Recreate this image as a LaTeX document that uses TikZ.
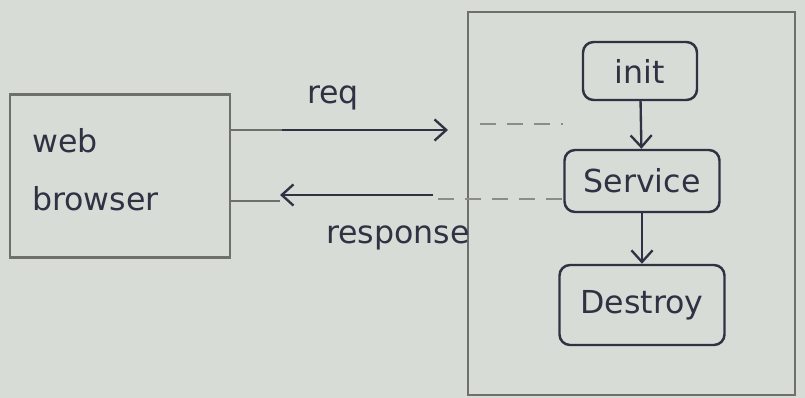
\documentclass[tikz,border=0pt]{standalone}
\usepackage{fontspec}
\setmainfont{DejaVu Sans}
\usetikzlibrary{arrows.meta}
\definecolor{paper}{RGB}{216,220,214}
\definecolor{pencil}{RGB}{110,112,108}
\definecolor{ink}{RGB}{48,50,68}
\tikzset{
  box/.style={draw=pencil, line width=2.1pt, minimum width=#1},
  soft/.style={box=#1, rounded corners=9pt, draw=ink, line width=2.1pt},
  lbl/.style={text=ink, font=\fontsize{27}{50}\selectfont},
  inkarrow/.style={draw=ink, line width=2pt, -{Straight Barb[length=10pt,width=18pt,line width=2pt]}},
  stub/.style={draw=pencil, line width=2.1pt},
  dashline/.style={draw=pencil!80, line width=2.1pt, dash pattern=on 14pt off 9pt},
}
\begin{document}
\begin{tikzpicture}[x=0.03cm, y=-0.03cm]
\fill[paper] (0,0) rectangle (805,398);
\useasboundingbox (0,0) rectangle (805,398);
% boxes
\node[box=6.6cm, minimum height=4.89cm] (browser) at (120,176) {};
\node[lbl, anchor=north west, align=left] (browsertxt) at (28,124) {web\\browser};
\node[box=9.81cm, minimum height=11.49cm] (server) at (631.5,203.5) {};
\node[soft=3.42cm, minimum height=1.74cm, lbl] (init) at (640,71) {init};
\node[soft=4.65cm, minimum height=1.86cm, lbl] (service) at (642,181) {Service};
\node[soft=4.95cm, minimum height=2.4cm, lbl] (destroy) at (642,305) {Destroy};
% lifecycle arrows
\draw[inkarrow] (init) -- (service);
\draw[inkarrow] (service) -- (destroy);
% request
\coordinate (reqS) at (282,130);
\coordinate (reqE) at (448,130);
\draw[stub] (browser.east |- reqS) -- (reqS);
\draw[inkarrow] (reqS) -- (reqE);
\node[lbl] (reqtxt) at (333,98) {req};
\coordinate (reqD1) at (480,124);
\draw[dashline] (reqD1) -- (service.west |- reqD1);
% response
\coordinate (resS) at (433,195);
\coordinate (resE) at (280,195);
\draw[stub] (browser.east |- 0,201) -- (resE |- 0,201);
\draw[inkarrow] (resS) -- (resE);
\node[lbl] (restxt) at (398,238) {response};
\coordinate (resD1) at (438,199);
\draw[dashline] (resD1) -- (service.west |- resD1);
\end{tikzpicture}
\end{document}
